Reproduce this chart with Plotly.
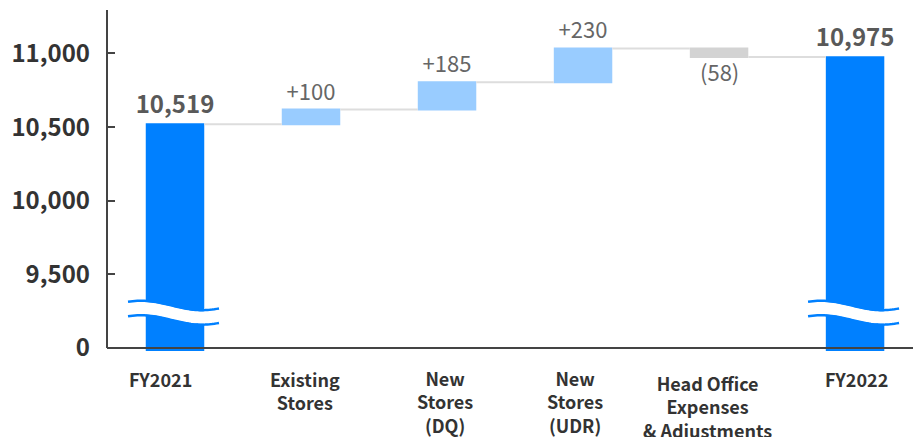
import numpy as np
import plotly.graph_objects as go

# ---- data ----
categories = ["FY2021", "Existing<br>Stores", "New<br>Stores<br>(DQ)", "New<br>Stores<br>(UDR)",
              "Head Office<br>Expenses<br>& Adjustments", "FY2022"]
values = [10519, 100, 185, 230, -58, 10975]
measures = ["absolute", "relative", "relative", "relative", "relative", "absolute"]
ytick_vals = [9000, 9500, 10000, 10500, 11000]
ytick_text = ["0", "9,500", "10,000", "10,500", "11,000"]
broken_bars = [0, 5]  # indices of bars with an axis-break symbol

# category-label placement tweaks (pixels)
label_dx_px = [-15, -6, -2, -8, -11.5, 1.5]
label_top_px = [364, 364, 363, 363, 368, 364]


def fmt(v, m):
    if m == "absolute":
        return f"<b>{v:,}</b>"
    return f"+{v:,}" if v >= 0 else f"({-v:,})"


texts = [fmt(v, m) for v, m in zip(values, measures)]
# negative changes are labelled separately below the bar
bar_texts = [t if (m == "absolute" or v >= 0) else "" for t, v, m in zip(texts, values, measures)]
text_colors = ["#595959" if m == "absolute" else "#666666" for m in measures]
text_sizes = [24 if m == "absolute" else 22 for m in measures]

# running level at the end of each bar
levels = []
cur = 0
for v, m in zip(values, measures):
    cur = v if m == "absolute" else cur + v
    levels.append(cur)

# ---- layout constants ----
W, H = 913, 437
ML, MR, MT, MB = 107, 0, 10, 86
PW, PH = W - ML - MR, H - MT - MB
Y0, Y1 = 8980, 11295
X0, X1 = -0.5, 5.426

fig = go.Figure(go.Waterfall(
    x=list(range(len(categories))),
    y=values,
    measure=measures,
    text=bar_texts,
    textposition="outside",
    constraintext="none",
    textfont=dict(size=text_sizes, color=text_colors, family="Noto Sans CJK JP"),
    increasing=dict(marker=dict(color="#99CCFF")),
    decreasing=dict(marker=dict(color="#D3D3D3")),
    totals=dict(marker=dict(color="#0080FF")),
    connector=dict(line=dict(color="#DDDDDD", width=2), mode="between"),
    cliponaxis=False,
    hoverinfo="skip",
))


def px_to_paper(px, py):
    return (px - ML) / PW, (H - MB - py) / PH


xpix_per_unit = PW / (X1 - X0)
ypix_axis = MT + (Y1 - 9000) / (Y1 - Y0) * PH

# axis-break wave symbols
shapes = []
for i in broken_bars:
    cx = ML + (i - X0) * xpix_per_unit
    xs = np.linspace(-47, 44, 40)
    wave = 4.7 * np.sin(2 * np.pi * (xs + 64.5) / 122.0)
    for off, col, wd in [(35.3, "white", 12.5), (42.6, "#0080FF", 2.5), (28.1, "#0080FF", 2.5)]:
        pts = [px_to_paper(cx + x, ypix_axis - off - w) for x, w in zip(xs, wave)]
        path = "M " + " L ".join(f"{a:.5f},{b:.5f}" for a, b in pts)
        shapes.append(dict(type="path", path=path, xref="paper", yref="paper",
                           line=dict(color=col, width=wd), layer="above"))

# axis lines
shapes.append(dict(type="line", xref="paper", yref="y", x0=0, x1=1, y0=9000, y1=9000,
                   line=dict(color="#444444", width=2)))
shapes.append(dict(type="line", xref="paper", yref="y", x0=0, x1=0, y0=9000, y1=Y1,
                   line=dict(color="#444444", width=2)))

annotations = []
# labels for negative changes, below the bar end
for i, (t, v, m, lv) in enumerate(zip(texts, values, measures, levels)):
    if m != "absolute" and v < 0:
        annotations.append(dict(
            x=i, xref="x", y=lv, yref="y", text=t, showarrow=False,
            xanchor="center", yanchor="top", yshift=4,
            font=dict(size=22, color="#666666", family="Noto Sans CJK JP"),
        ))

# category labels
for i, (lab, dx, top) in enumerate(zip(categories, label_dx_px, label_top_px)):
    annotations.append(dict(
        x=i + dx / xpix_per_unit, xref="x",
        y=(H - MB - top) / PH, yref="paper",
        text=f"<b>{lab}</b>", showarrow=False, xanchor="center", yanchor="top",
        align="center", font=dict(size=18, color="#333333", family="Noto Sans CJK JP"),
    ))

fig.update_layout(
    width=W, height=H,
    margin=dict(l=ML, r=MR, t=MT, b=MB, pad=0),
    plot_bgcolor="white", paper_bgcolor="white",
    showlegend=False,
    waterfallgap=0.57,
    font=dict(family="Noto Sans CJK JP", color="#333333"),
    shapes=shapes,
    annotations=annotations,
    xaxis=dict(range=[X0, X1], showline=False, showgrid=False, zeroline=False,
               ticks="", showticklabels=False),
    yaxis=dict(range=[Y0, Y1], tickvals=ytick_vals, ticktext=ytick_text,
               ticks="inside", ticklen=8, tickwidth=2, tickcolor="#444444",
               showline=False, showgrid=False, zeroline=False,
               tickfont=dict(size=24, color="#333333", weight="bold"),
               ticklabelstandoff=16),
)

fig.write_html("out.html", config={"displayModeBar": False},
               post_script="document.body.style.margin='0';document.body.style.overflow='hidden';")
